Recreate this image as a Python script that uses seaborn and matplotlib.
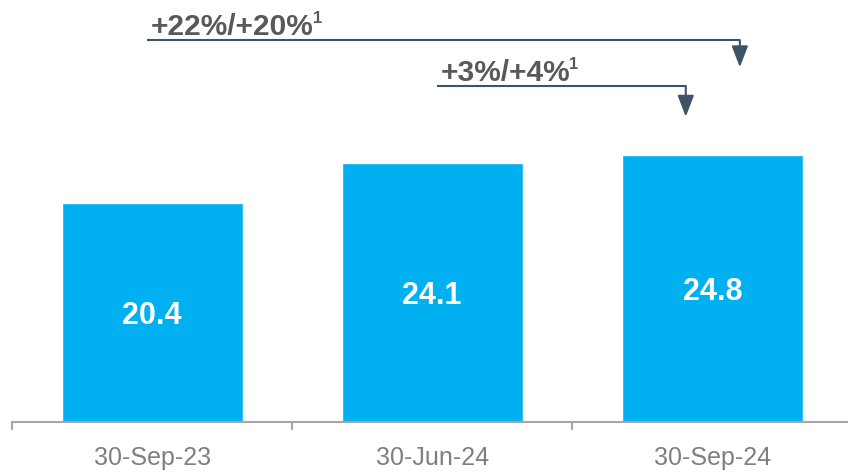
import matplotlib
matplotlib.use("Agg")
import matplotlib.pyplot as plt
import seaborn as sns
import pandas as pd

# Values
categories = ["30-Sep-23", "30-Jun-24", "30-Sep-24"]
values = [20.4, 24.1, 24.8]
growth_labels = ["+22%/+20%", "+3%/+4%"]
footnote = "1"

sns.set_theme(style="white")
plt.rcParams["font.family"] = ["Liberation Sans", "DejaVu Sans"]

bar_color = "#00b0f0"
axis_color = "#a6a6a6"
arrow_color = "#3d5468"
text_color = "#595959"

df = pd.DataFrame({"date": categories, "value": values})

fig = plt.figure(figsize=(8.48, 4.72), dpi=100)
ax = fig.add_axes([12 / 848, 50 / 472, 836 / 848, 422 / 472])

sns.barplot(data=df, x="date", y="value", color=bar_color, width=0.646,
            saturation=1, ax=ax)

ax.set_xlim(-0.5, 2.484)
ax.set_ylim(0, 39.26)

# value labels inside bars
for i, v in enumerate(values):
    ax.text(i, v / 2 - 1.05, f"{v:.1f}", ha="center", va="baseline",
            color="white", fontsize=22, fontweight="bold")

# axes styling
for s in ["top", "right", "left"]:
    ax.spines[s].set_visible(False)
ax.spines["bottom"].set_color(axis_color)
ax.spines["bottom"].set_linewidth(1.5)
ax.set_yticks([])
ax.set_xlabel("")
ax.set_ylabel("")
ax.set_xticks(range(len(categories)))
ax.set_xticklabels(categories, fontsize=18, color="#7f7f7f")
ax.tick_params(axis="x", which="major", length=0, pad=17)
ax.set_xticks([-0.5, 0.5, 1.5], minor=True)
ax.tick_params(axis="x", which="minor", length=6, width=1.5, color=axis_color,
               direction="out", bottom=True)

# growth brackets with arrows
label_size = 21.5
brackets = [
    # (x_start, x_end, y_line, y_tip)
    (-0.018, 2.098, 35.53, 33.0),
    (1.017, 1.905, 31.26, 28.4),
]
labels = []
for (x0, x1, yl, yt), label in zip(brackets, growth_labels):
    ax.plot([x0, x1], [yl, yl], color=arrow_color, lw=1.5, solid_capstyle="butt",
            clip_on=False)
    ax.annotate("", xy=(x1, yt), xytext=(x1, yl),
                arrowprops=dict(arrowstyle="-|>,head_length=1.3,head_width=0.5",
                                color=arrow_color, lw=1.5, shrinkA=0, shrinkB=0,
                                mutation_scale=10),
                annotation_clip=False)
    t = ax.text(x0 + 0.012, yl + 0.45, label, ha="left", va="baseline",
                fontsize=label_size, fontweight="bold", color=text_color)
    labels.append((t, x0 + 0.012, yl + 0.45))

# superscript footnote markers, top-aligned with the digits of each label
fig.canvas.draw()
renderer = fig.canvas.get_renderer()
px_per_pt = fig.dpi / 72
for t, tx, ty in labels:
    bb = t.get_window_extent(renderer)
    baseline = ax.transData.transform((tx, ty))[1]
    cap_top = baseline + 0.716 * label_size * px_per_pt
    ax.annotate(footnote, xy=(bb.x1 - 0.5, cap_top + 0.15 * 12 * px_per_pt),
                xycoords="figure pixels", ha="left", va="top",
                fontsize=12, fontweight="bold", color=text_color,
                annotation_clip=False)

fig.savefig("out.png", dpi=100)
